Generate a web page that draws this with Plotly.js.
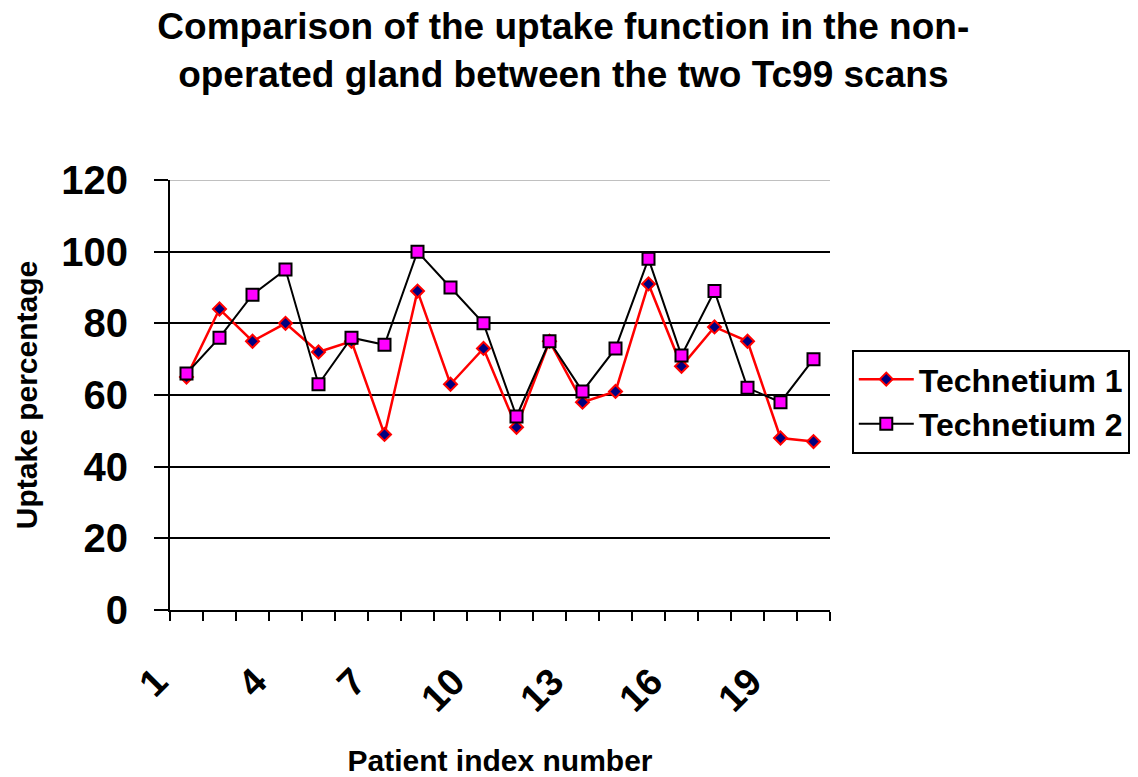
<!DOCTYPE html>
<html>
<head>
<meta charset="utf-8">
<script src="https://cdn.plot.ly/plotly-3.0.1.min.js"></script>
<style>html,body{margin:0;padding:0;background:#fff;}#chart{width:1138px;height:777px;}</style>
</head>
<body>
<div id="chart"></div>
<script>
const patients = [1,2,3,4,5,6,7,8,9,10,11,12,13,14,15,16,17,18,19,20];
const technetium1 = [65,84,75,80,72,75,49,89,63,73,51,75,58,61,91,68,79,75,48,47];
const technetium2 = [66,76,88,95,63,76,74,100,90,80,54,75,61,73,98,71,89,62,58,70];
const xTickVals = [1,4,7,10,13,16,19];
const xTickText = ['1','4','7','10','13','16','19'];
const seriesNames = ['Technetium 1','Technetium 2'];

const FONT = 'Liberation Sans, Arial, sans-serif';

const traces = [
  {
    x: patients, y: technetium1, name: seriesNames[0], type: 'scatter', mode: 'lines+markers',
    line: {color: '#FF0000', width: 2.5},
    marker: {symbol: 'diamond', size: 10, color: '#000080', line: {color: '#FF0000', width: 2}}
  },
  {
    x: patients, y: technetium2, name: seriesNames[1], type: 'scatter', mode: 'lines+markers',
    line: {color: '#000000', width: 2},
    marker: {symbol: 'square', size: 12, color: '#FF00FF', line: {color: '#000000', width: 2}}
  }
];

const layout = {
  width: 1138, height: 777,
  paper_bgcolor: '#ffffff', plot_bgcolor: '#ffffff',
  margin: {l: 170, r: 308, t: 180, b: 167, autoexpand: false},
  font: {family: FONT, color: '#000000'},
  title: {
    text: 'Comparison of the uptake function in the non-<br>operated gland between the two Tc99 scans',
    font: {family: FONT, size: 37, weight: 'bold', color: '#000'},
    xref: 'container', x: 0.495, xanchor: 'center',
    yref: 'container', y: 0.95, yanchor: 'top'
  },
  xaxis: {
    type: 'linear', range: [0.5, 20.5],
    tickmode: 'array', tickvals: xTickVals, ticktext: xTickText,
    tickangle: -45, ticks: '', ticklen: 0,
    tickfont: {family: FONT, size: 38, weight: 'bold', color: '#000'},
    ticklabelstandoff: 32, ticklabelshift: -30,
    minor: {tickmode: 'linear', tick0: 0.5, dtick: 1, ticks: 'outside', ticklen: 9, tickwidth: 2, tickcolor: '#000', showgrid: false},
    showline: true, linecolor: '#000', linewidth: 2,
    showgrid: false, zeroline: false,
    title: {text: 'Patient index number', font: {family: FONT, size: 30, weight: 'bold', color: '#000'}, standoff: 35}
  },
  yaxis: {
    range: [0, 120], dtick: 20, tick0: 0,
    ticks: 'outside', ticklen: 14, tickwidth: 2, tickcolor: '#000',
    tickfont: {family: FONT, size: 40, weight: 'bold', color: '#000'},
    ticklabelstandoff: 18,
    showline: true, linecolor: '#000', linewidth: 2,
    showgrid: true, gridcolor: '#000', gridwidth: 2, zeroline: false,
    title: {text: 'Uptake percentage', font: {family: FONT, size: 30, weight: 'bold', color: '#000'}, standoff: 15}
  },
  legend: {
    x: 1.033, y: 0.605, xanchor: 'left', yanchor: 'top',
    bordercolor: '#000', borderwidth: 2, bgcolor: '#fff',
    font: {family: FONT, size: 32, weight: 'bold', color: '#000'},
    itemwidth: 55, tracegroupgap: 0
  },
  shapes: [
    {type: 'line', xref: 'paper', yref: 'y', x0: 0, x1: 1, y0: 120, y1: 120, line: {color: '#c0c0c0', width: 2}, layer: 'above'}
  ],
  showlegend: true
};

Plotly.newPlot('chart', traces, layout, {displayModeBar: false, staticPlot: true});
</script>
</body>
</html>
